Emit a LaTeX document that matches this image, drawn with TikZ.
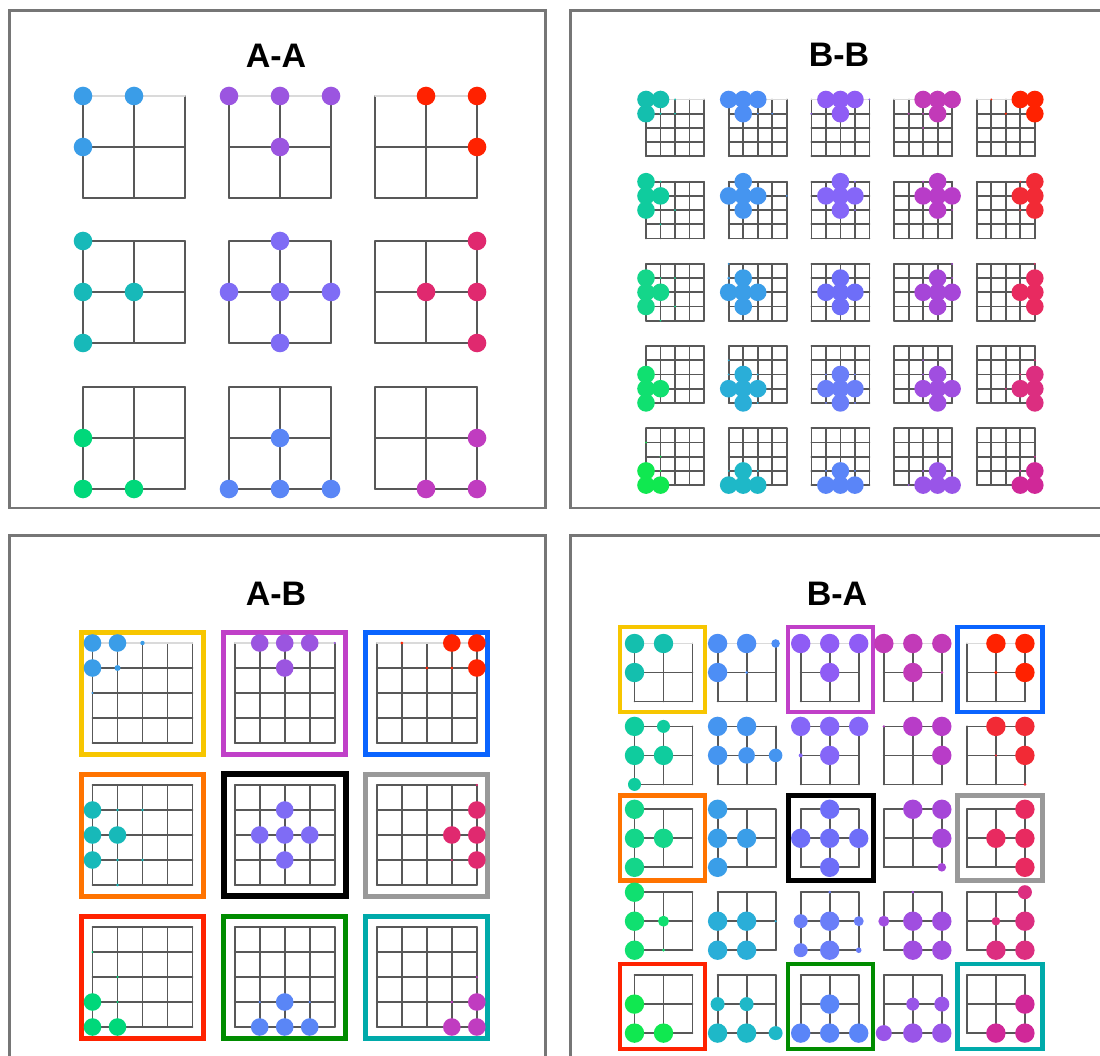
\documentclass[tikz,border=0pt]{standalone}
\usepackage{fontspec}
\setmainfont{Liberation Sans}
\definecolor{gridc}{HTML}{585858}
\definecolor{toplight}{HTML}{DADADA}
\definecolor{panelc}{HTML}{767676}
% A colours
\definecolor{aa1}{HTML}{3A9DE8}
\definecolor{aa2}{HTML}{9B55E0}
\definecolor{aa3}{HTML}{FF2200}
\definecolor{aa4}{HTML}{17B9B9}
\definecolor{aa5}{HTML}{7F6CF5}
\definecolor{aa6}{HTML}{E0296F}
\definecolor{aa7}{HTML}{00D87A}
\definecolor{aa8}{HTML}{5A86F6}
\definecolor{aa9}{HTML}{C03CC0}
% B colours
\definecolor{bb00}{HTML}{14BFAE}
\definecolor{bb10}{HTML}{4D8EF5}
\definecolor{bb20}{HTML}{8F5CF5}
\definecolor{bb30}{HTML}{C23AB8}
\definecolor{bb40}{HTML}{FF2200}
\definecolor{bb01}{HTML}{0FCC9E}
\definecolor{bb11}{HTML}{4595F0}
\definecolor{bb21}{HTML}{8566F8}
\definecolor{bb31}{HTML}{B83CC8}
\definecolor{bb41}{HTML}{F22A35}
\definecolor{bb02}{HTML}{14D68A}
\definecolor{bb12}{HTML}{3A9EE8}
\definecolor{bb22}{HTML}{6E6EF8}
\definecolor{bb32}{HTML}{A646D8}
\definecolor{bb42}{HTML}{E82A60}
\definecolor{bb03}{HTML}{10E070}
\definecolor{bb13}{HTML}{2AAED8}
\definecolor{bb23}{HTML}{6A7EF8}
\definecolor{bb33}{HTML}{A04EE0}
\definecolor{bb43}{HTML}{DC2E80}
\definecolor{bb04}{HTML}{10E850}
\definecolor{bb14}{HTML}{1EB8C8}
\definecolor{bb24}{HTML}{5A85F8}
\definecolor{bb34}{HTML}{9955E8}
\definecolor{bb44}{HTML}{D02898}
% box colours
\definecolor{bxyellow}{HTML}{F7C600}
\definecolor{bxpurple}{HTML}{C040C8}
\definecolor{bxblue}{HTML}{0A64FF}
\definecolor{bxorange}{HTML}{FF7300}
\definecolor{bxblack}{HTML}{000000}
\definecolor{bxgray}{HTML}{999999}
\definecolor{bxred}{HTML}{FF2200}
\definecolor{bxgreen}{HTML}{008C00}
\definecolor{bxteal}{HTML}{00AAAA}

\tikzset{
  gl/.style={line width=1.8pt, draw=gridc, line cap=round},
  tl/.style={draw=toplight},
  dk/.style={},
  panel/.style={draw=panelc, line width=2.5pt},
  ttl/.style={font=\fontsize{34}{40}\selectfont\bfseries, text=black, inner sep=0pt},
  boxA/.style={line width=5pt},
  boxB/.style={line width=4.3pt},
}
% grid: x0 y0 n cx cy topstyle
\newcommand{\grd}[6]{%
  \foreach \kk in {0,...,#3} {
    \draw[gl] ({#1+\kk*#4},{#2}) -- ({#1+\kk*#4},{#2+#3*#5});
  }
  \foreach \kk in {1,...,#3} {
    \draw[gl] ({#1},{#2+\kk*#5}) -- ({#1+#3*#4},{#2+\kk*#5});
  }
  \draw[gl,#6] ({#1},{#2}) -- ({#1+#3*#4},{#2});
}
% dots: x0 y0 cx cy colour list(i/j/r)
\newcommand{\dts}[6]{%
  \foreach \ii/\jj/\rr in {#6} {
    \fill[#5] ({#1+\ii*#3},{#2+\jj*#4}) circle[radius=\rr*1pt];
  }
}
\def\R{8.8}
\def\B{9.7}
\def\A{8.8}
\begin{document}
\begin{tikzpicture}[x=1pt,y=-1pt]
\useasboundingbox (0,0) rectangle (1100,1056);
\fill[white] (0,0) rectangle (1100,1056);

% ---------------- panels ----------------
\draw[panel] (9.5,10.5) rectangle (545.5,508);
\draw[panel] (570.5,10.5) rectangle (1112,508);
\draw[panel] (9.5,535.5) rectangle (545.5,1070);
\draw[panel] (570.5,535.5) rectangle (1112,1070);

\node[ttl] (tAA) at (276,55.5) {A-A};
\node[ttl] (tBB) at (839,55) {B-B};
\node[ttl] (tAB) at (276,594) {A-B};
\node[ttl] (tBA) at (837,594) {B-A};

% ---------------- A-A ----------------
\grd{83}{96}{2}{51}{51}{tl}
\grd{229}{96}{2}{51}{51}{tl}
\grd{375}{96}{2}{51}{51}{tl}
\grd{83}{241}{2}{51}{51}{dk}
\grd{229}{241}{2}{51}{51}{dk}
\grd{375}{241}{2}{51}{51}{dk}
\grd{83}{387}{2}{51}{51}{dk}
\grd{229}{387}{2}{51}{51}{dk}
\grd{375}{387}{2}{51}{51}{dk}
\dts{83}{96}{51}{51}{aa1}{0/0/9.3,1/0/9.3,0/1/9.3}
\dts{229}{96}{51}{51}{aa2}{0/0/9.3,1/0/9.3,2/0/9.3,1/1/9.3}
\dts{375}{96}{51}{51}{aa3}{1/0/9.3,2/0/9.3,2/1/9.3}
\dts{83}{241}{51}{51}{aa4}{0/0/9.3,0/1/9.3,1/1/9.3,0/2/9.3}
\dts{229}{241}{51}{51}{aa5}{1/0/9.3,0/1/9.3,1/1/9.3,2/1/9.3,1/2/9.3}
\dts{375}{241}{51}{51}{aa6}{2/0/9.3,1/1/9.3,2/1/9.3,2/2/9.3}
\dts{83}{387}{51}{51}{aa7}{0/1/9.3,0/2/9.3,1/2/9.3}
\dts{229}{387}{51}{51}{aa8}{1/1/9.3,0/2/9.3,1/2/9.3,2/2/9.3}
\dts{375}{387}{51}{51}{aa9}{2/1/9.3,1/2/9.3,2/2/9.3}

% ---------------- B-B ----------------
\foreach \gx in {646,728.7,811.4,894.1,976.8} {
  \grd{\gx}{99.5}{4}{14.5}{14.2}{tl}
  \foreach \gy in {181.7,263.9,346.1,428.3} {
    \grd{\gx}{\gy}{4}{14.5}{14.2}{dk}
  }
}
\dts{646}{99.5}{14.5}{14.2}{bb00}{0/0/\R,1/0/\R,0/1/\R,2/0/1,1/1/1.2,2/1/1}
\dts{728.7}{99.5}{14.5}{14.2}{bb10}{0/0/\R,1/0/\R,2/0/\R,1/1/\R,2/1/1,3/1/1}
\dts{811.4}{99.5}{14.5}{14.2}{bb20}{1/0/\R,2/0/\R,3/0/\R,2/1/\R,4/0/1,0/1/1}
\dts{894.1}{99.5}{14.5}{14.2}{bb30}{2/0/\R,3/0/\R,4/0/\R,3/1/\R,1/1/1,2/1/1,2/2/1}
\dts{976.8}{99.5}{14.5}{14.2}{bb40}{3/0/\R,4/0/\R,4/1/\R,1/0/1,2/1/1.2}
\dts{646}{181.7}{14.5}{14.2}{bb01}{0/0/\R,0/1/\R,1/1/\R,0/2/\R,1/0/1,2/2/1,1/3/1}
\dts{728.7}{181.7}{14.5}{14.2}{bb11}{1/0/\R,0/1/\R,1/1/\R,2/1/\R,1/2/\R,4/1/1}
\dts{811.4}{181.7}{14.5}{14.2}{bb21}{2/0/\R,1/1/\R,2/1/\R,3/1/\R,2/2/\R,3/0/1,3/2/1}
\dts{894.1}{181.7}{14.5}{14.2}{bb31}{3/0/\R,2/1/\R,3/1/\R,4/1/\R,3/2/\R,2/0/1,4/2/1}
\dts{976.8}{181.7}{14.5}{14.2}{bb41}{4/0/\R,3/1/\R,4/1/\R,4/2/\R,3/0/1,3/2/1}
\dts{646}{263.9}{14.5}{14.2}{bb02}{0/1/\R,0/2/\R,1/2/\R,0/3/\R,1/1/1,2/1/1,2/3/1,1/4/1}
\dts{728.7}{263.9}{14.5}{14.2}{bb12}{1/1/\R,0/2/\R,1/2/\R,2/2/\R,1/3/\R,0/0/1,0/1/1.5}
\dts{811.4}{263.9}{14.5}{14.2}{bb22}{2/1/\R,1/2/\R,2/2/\R,3/2/\R,2/3/\R}
\dts{894.1}{263.9}{14.5}{14.2}{bb32}{3/1/\R,2/2/\R,3/2/\R,4/2/\R,3/3/\R,4/0/1,4/1/1}
\dts{976.8}{263.9}{14.5}{14.2}{bb42}{4/1/\R,3/2/\R,4/2/\R,4/3/\R,4/0/1}
\dts{646}{346.1}{14.5}{14.2}{bb03}{0/2/\R,0/3/\R,1/3/\R,0/4/\R}
\dts{728.7}{346.1}{14.5}{14.2}{bb13}{1/2/\R,0/3/\R,1/3/\R,2/3/\R,1/4/\R,0/1/1,0/2/1,2/2/1,2/4/1}
\dts{811.4}{346.1}{14.5}{14.2}{bb23}{2/2/\R,1/3/\R,2/3/\R,3/3/\R,2/4/\R,1/2/1,3/2/1,1/4/1,3/4/1}
\dts{894.1}{346.1}{14.5}{14.2}{bb33}{3/2/\R,2/3/\R,3/3/\R,4/3/\R,3/4/\R,2/1/1,2/2/1}
\dts{976.8}{346.1}{14.5}{14.2}{bb43}{4/2/\R,3/3/\R,4/3/\R,4/4/\R,4/1/1,3/2/1,2/3/1}
\dts{646}{428.3}{14.5}{14.2}{bb04}{0/3/\R,0/4/\R,1/4/\R,0/1/1,1/2/1,1/3/1}
\dts{728.7}{428.3}{14.5}{14.2}{bb14}{1/3/\R,0/4/\R,1/4/\R,2/4/\R,0/3/1,2/3/1}
\dts{811.4}{428.3}{14.5}{14.2}{bb24}{2/3/\R,1/4/\R,2/4/\R,3/4/\R,1/3/1,3/3/1}
\dts{894.1}{428.3}{14.5}{14.2}{bb34}{3/3/\R,2/4/\R,3/4/\R,4/4/\R,2/3/1,4/3/1,1/4/1}
\dts{976.8}{428.3}{14.5}{14.2}{bb44}{4/3/\R,3/4/\R,4/4/\R,4/2/1,3/3/1}

% ---------------- A-B ----------------
\draw[boxA,bxyellow] (81.5,632) rectangle (203.5,754);
\draw[boxA,bxpurple] (223.7,632) rectangle (345.7,754);
\draw[boxA,bxblue]   (365.8,632) rectangle (487.8,754);
\draw[boxA,bxorange] (81.5,774) rectangle (203.5,896);
\draw[boxA,bxblack,line width=5.8pt] (223.7,774) rectangle (345.7,896);
\draw[boxA,bxgray]   (365.8,774) rectangle (487.8,896);
\draw[boxA,bxred]    (81.5,916) rectangle (203.5,1038);
\draw[boxA,bxgreen]  (223.7,916) rectangle (345.7,1038);
\draw[boxA,bxteal]   (365.8,916) rectangle (487.8,1038);
\foreach \gx in {92.5,234.7,376.8} {
  \grd{\gx}{643}{4}{25}{25}{tl}
  \grd{\gx}{785}{4}{25}{25}{dk}
  \grd{\gx}{927}{4}{25}{25}{dk}
}
\dts{92.5}{643}{25}{25}{aa1}{0/0/\A,1/0/\A,0/1/\A,2/0/2.2,1/1/3,0/2/1.2}
\dts{234.7}{643}{25}{25}{aa2}{1/0/\A,2/0/\A,3/0/\A,2/1/\A,4/0/1.2}
\dts{376.8}{643}{25}{25}{aa3}{3/0/\A,4/0/\A,4/1/\A,1/0/1.5,2/1/1.5,3/1/1.5}
\dts{92.5}{785}{25}{25}{aa4}{0/1/\A,0/2/\A,1/2/\A,0/3/\A,1/1/1.3,2/1/1.3,1/3/1.3,2/3/1.3,1/4/1.3}
\dts{234.7}{785}{25}{25}{aa5}{2/1/\A,1/2/\A,2/2/\A,3/2/\A,2/3/\A}
\dts{376.8}{785}{25}{25}{aa6}{4/1/\A,3/2/\A,4/2/\A,4/3/\A,4/0/1.2,3/3/1.2}
\dts{92.5}{927}{25}{25}{aa7}{0/3/\A,0/4/\A,1/4/\A,0/1/1,1/2/1.2,1/3/1.2}
\dts{234.7}{927}{25}{25}{aa8}{2/3/\A,1/4/\A,2/4/\A,3/4/\A,1/3/1.3,3/3/1.3}
\dts{376.8}{927}{25}{25}{aa9}{4/3/\A,3/4/\A,4/4/\A,4/2/1.2,3/3/1.5}

% ---------------- B-A ----------------
\draw[boxB,bxyellow] (620,627) rectangle (705,712);
\draw[boxB,bxpurple] (788,627) rectangle (873,712);
\draw[boxB,bxblue]   (957.5,627) rectangle (1042.5,712);
\draw[boxB,bxorange] (620,795.5) rectangle (705,880.5);
\draw[boxB,bxblack,line width=5pt] (788,795.5) rectangle (873,880.5);
\draw[boxB,bxgray]   (957.5,795.5) rectangle (1042.5,880.5);
\draw[boxB,bxred]    (620,964) rectangle (705,1049);
\draw[boxB,bxgreen]  (788,964) rectangle (873,1049);
\draw[boxB,bxteal]   (957.5,964) rectangle (1042.5,1049);
\foreach \gx in {634.5,717.6,800.7,883.8,966.9} {
  \grd{\gx}{643.5}{2}{29}{29}{tl}
  \foreach \gy in {726.4,809.3,892.2,975.1} {
    \grd{\gx}{\gy}{2}{29}{29}{dk}
  }
}
\dts{634.5}{643.5}{29}{29}{bb00}{0/0/\B,1/0/\B,0/1/\B}
\dts{717.6}{643.5}{29}{29}{bb10}{0/0/\B,1/0/\B,0/1/\B,2/0/4.3,1/1/1.5}
\dts{800.7}{643.5}{29}{29}{bb20}{0/0/\B,1/0/\B,2/0/\B,1/1/\B}
\dts{883.8}{643.5}{29}{29}{bb30}{0/0/\B,1/0/\B,2/0/\B,1/1/\B,2/1/1.5}
\dts{966.9}{643.5}{29}{29}{bb40}{1/0/\B,2/0/\B,2/1/\B,1/1/1.8}
\dts{634.5}{726.4}{29}{29}{bb01}{0/0/\B,0/1/\B,1/1/\B,1/0/6.5,0/2/6.5}
\dts{717.6}{726.4}{29}{29}{bb11}{0/0/\B,1/0/\B,0/1/\B,1/1/8.3,2/1/6.8}
\dts{800.7}{726.4}{29}{29}{bb21}{0/0/\B,1/0/\B,2/0/\B,1/1/\B,0/1/2}
\dts{883.8}{726.4}{29}{29}{bb31}{1/0/\B,2/0/\B,2/1/\B,0/0/1.2}
\dts{966.9}{726.4}{29}{29}{bb41}{1/0/\B,2/0/\B,2/1/\B,2/2/1.5,1/1/1.2}
\dts{634.5}{809.3}{29}{29}{bb02}{0/0/\B,0/1/\B,1/1/\B,0/2/\B}
\dts{717.6}{809.3}{29}{29}{bb12}{0/0/\B,0/1/\B,1/1/\B,0/2/\B}
\dts{800.7}{809.3}{29}{29}{bb22}{1/0/\B,0/1/\B,1/1/\B,2/1/\B,1/2/\B}
\dts{883.8}{809.3}{29}{29}{bb32}{1/0/\B,2/0/\B,2/1/\B,2/2/4.3}
\dts{966.9}{809.3}{29}{29}{bb42}{2/0/\B,1/1/\B,2/1/\B,2/2/\B}
\dts{634.5}{892.2}{29}{29}{bb03}{0/0/\B,0/1/\B,0/2/\B,1/1/5.5,1/2/1.5}
\dts{717.6}{892.2}{29}{29}{bb13}{0/1/\B,1/1/\B,0/2/\B,1/2/\B,2/1/1.2}
\dts{800.7}{892.2}{29}{29}{bb23}{1/1/\B,1/2/\B,0/1/7,0/2/7,2/1/5,2/2/2.8,1/0/1.5}
\dts{883.8}{892.2}{29}{29}{bb33}{1/1/\B,2/1/\B,1/2/\B,2/2/\B,0/1/5.5,1/0/1.5}
\dts{966.9}{892.2}{29}{29}{bb43}{2/0/7,2/1/\B,1/2/\B,2/2/\B,1/1/4.3}
\dts{634.5}{975.1}{29}{29}{bb04}{0/1/\B,0/2/\B,1/2/\B}
\dts{717.6}{975.1}{29}{29}{bb14}{0/1/7,1/1/7,0/2/\B,1/2/\B,2/2/7}
\dts{800.7}{975.1}{29}{29}{bb24}{1/1/\B,0/2/\B,1/2/\B,2/2/\B}
\dts{883.8}{975.1}{29}{29}{bb34}{1/1/6.5,2/1/7.5,0/2/8,1/2/\B,2/2/\B}
\dts{966.9}{975.1}{29}{29}{bb44}{2/1/\B,1/2/\B,2/2/\B}
\end{tikzpicture}
\end{document}
